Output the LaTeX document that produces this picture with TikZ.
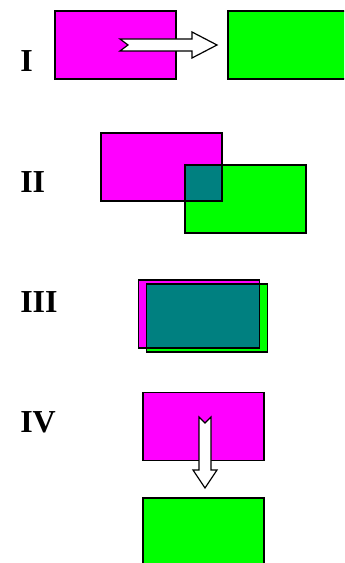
\documentclass[tikz,border=0pt]{standalone}
\usepackage{fontspec}
\setmainfont{Liberation Serif}
\definecolor{BoxMagenta}{RGB}{255,0,255}
\definecolor{BoxGreen}{RGB}{0,255,0}
\definecolor{BoxTeal}{RGB}{0,128,128}
\tikzset{
  panel/.style={inner sep=0pt,outer sep=0pt,minimum width=90.75pt,
    minimum height=51pt,line width=1.1pt},
  magentabox/.style={panel,fill=BoxMagenta},
  greenbox/.style={panel,fill=BoxGreen},
  outline/.style={draw=black,line width=1.1pt},
  numeral/.style={font=\fontsize{24}{28}\selectfont\bfseries,
    anchor=base west,inner sep=0pt},
  blockarrow/.style={draw=black,fill=white,line width=0.9pt,line join=miter}
}

\begin{document}
\begin{tikzpicture}[x=0.75pt,y=-0.75pt]
  \useasboundingbox (0,0) rectangle (344,563);
  \clip (0,0) rectangle (344,563);
  % I: moved aside
  \node[numeral] (lblI) at (20,72) {I};
  \node[magentabox,draw] (mI) at (115.5,45) {};
  \node[greenbox,draw] (gI) at (288.5,45) {};
  \draw[blockarrow] (120,39) -- (192,39) -- (192,32) -- (217,45)
    -- (192,58) -- (192,51) -- (120,51) -- (128,45) -- cycle;
  % II: partial overlap
  \node[numeral] (lblII) at (20,192) {II};
  \node[magentabox] (mII) at (161.5,167) {};
  \node[greenbox] (gII) at (245.5,199) {};
  \fill[BoxTeal] (gII.north west) rectangle (mII.south east);
  \draw[outline] (mII.north west) rectangle (mII.south east);
  \draw[outline] (gII.north west) rectangle (gII.south east);
  % III: almost on top
  \node[numeral] (lblIII) at (20,312) {III};
  \node[magentabox] (mIII) at (199,314) {};
  \node[greenbox] (gIII) at (207,318) {};
  \fill[BoxTeal] (gIII.north west) rectangle (mIII.south east);
  \draw[outline] (mIII.north west) rectangle (mIII.south east);
  \draw[outline] (gIII.north west) rectangle (gIII.south east);
  % IV: moved down
  \node[numeral] (lblIV) at (20,432) {IV};
  \node[magentabox,draw] (mIV) at (203.5,426.5) {};
  \node[greenbox,draw] (gIV) at (203.5,532) {};
  \draw[blockarrow] (199,417) -- (205,423) -- (211,417) -- (211,470)
    -- (217,470) -- (205,488) -- (193,470) -- (199,470) -- cycle;
\end{tikzpicture}
\end{document}
